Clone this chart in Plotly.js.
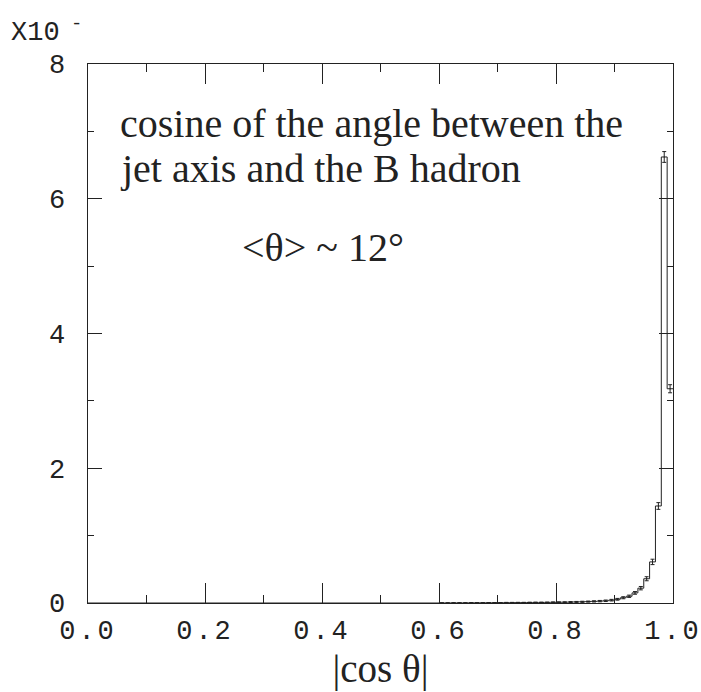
<!DOCTYPE html>
<html>
<head>
<meta charset="utf-8">
<script src="https://cdn.plot.ly/plotly-3.0.1.min.js"></script>
<style>
html,body{margin:0;padding:0;background:#fff;}
#chart{width:701px;height:692px;}
#chart .xtick text, #chart .ytick text{letter-spacing:3px;}
</style>
</head>
<body>
<div id="chart"></div>
<script>
// Histogram of |cos theta| (bin lower edges, first wide bin is empty)
var binEdges = [0.00, 0.60, 0.61, 0.62, 0.63, 0.64, 0.65, 0.66, 0.67, 0.68, 0.69,
  0.70, 0.71, 0.72, 0.73, 0.74, 0.75, 0.76, 0.77, 0.78, 0.79,
  0.80, 0.81, 0.82, 0.83, 0.84, 0.85, 0.86, 0.87, 0.88, 0.89,
  0.90, 0.91, 0.92, 0.93, 0.94, 0.95, 0.96, 0.97, 0.98, 0.99, 1.00];
var counts = [0, 0.001, 0.001, 0.002, 0.002, 0.002, 0.003, 0.003, 0.003, 0.004, 0.004,
  0.004, 0.005, 0.005, 0.006, 0.006, 0.007, 0.008, 0.008, 0.009, 0.010,
  0.011, 0.012, 0.014, 0.016, 0.018, 0.021, 0.024, 0.028, 0.033, 0.042,
  0.055, 0.078, 0.10, 0.15, 0.22, 0.36, 0.61, 1.44, 6.62, 3.18];
var errs = [0, 0.002, 0.002, 0.002, 0.002, 0.002, 0.003, 0.003, 0.003, 0.003, 0.003,
  0.003, 0.004, 0.004, 0.004, 0.004, 0.005, 0.005, 0.005, 0.005, 0.006,
  0.006, 0.006, 0.007, 0.007, 0.008, 0.008, 0.009, 0.010, 0.011, 0.012,
  0.013, 0.015, 0.017, 0.020, 0.025, 0.03, 0.04, 0.05, 0.08, 0.06];
var xTickVals = [0, 0.2, 0.4, 0.6, 0.8, 1.0];
var xTickText = ['0.0', '0.2', '0.4', '0.6', '0.8', '1.0'];
var yTickVals = [0, 2, 4, 6, 8];
var yTickText = ['0', '2', '4', '6', '8'];

var stepY = counts.concat([counts[counts.length - 1]]);
var centers = [], cErr = [], cVal = [];
for (var i = 1; i < counts.length; i++) {
  centers.push((binEdges[i] + binEdges[i + 1]) / 2);
  cVal.push(counts[i]);
  cErr.push(errs[i]);
}

var traces = [
  {x: binEdges, y: stepY, type: 'scatter', mode: 'lines',
   line: {shape: 'hv', color: '#222', width: 1}, hoverinfo: 'skip'},
  {x: centers, y: cVal, type: 'scatter', mode: 'markers',
   marker: {size: 1, color: '#222'},
   error_y: {type: 'data', array: cErr, visible: true, color: '#222', thickness: 1, width: 2},
   hoverinfo: 'skip'}
];

var monoFont = {family: 'Liberation Mono, Courier New, monospace', size: 27, color: '#222'};
var serifFont = {family: 'Liberation Serif, Times New Roman, serif', size: 40, color: '#222'};
var layout = {
  width: 701, height: 692,
  margin: {l: 88, r: 28, t: 64, b: 89},
  paper_bgcolor: '#fff', plot_bgcolor: '#fff',
  showlegend: false,
  xaxis: {
    range: [0, 1], tickvals: xTickVals, ticktext: xTickText,
    ticks: 'inside', ticklen: 20, tickwidth: 1, tickcolor: '#222',
    minor: {dtick: 0.1, ticks: 'inside', ticklen: 8, tickwidth: 1, tickcolor: '#222', showgrid: false},
    showline: true, linecolor: '#222', linewidth: 1.3, mirror: 'ticks',
    showgrid: false, zeroline: false, tickfont: monoFont, ticklabelstandoff: 2,
    title: {text: '|cos θ|', font: {family: 'Liberation Serif, Times New Roman, serif', size: 39, color: '#222'}, standoff: 4}
  },
  yaxis: {
    range: [0, 8], tickvals: yTickVals, ticktext: yTickText,
    ticks: 'inside', ticklen: 14, tickwidth: 1, tickcolor: '#222',
    minor: {dtick: 1, ticks: 'inside', ticklen: 6, tickwidth: 1, tickcolor: '#222', showgrid: false},
    showline: true, linecolor: '#222', linewidth: 1.3, mirror: 'ticks',
    showgrid: false, zeroline: false, tickfont: monoFont, ticklabelstandoff: 13
  },
  annotations: [
    {xref: 'paper', yref: 'paper', x: -0.135, y: 1.063, xanchor: 'left', yanchor: 'middle',
     text: 'X10<sup> -</sup>', showarrow: false, font: monoFont},
    {xref: 'paper', yref: 'paper', x: 0.0513, y: 0.8905, xanchor: 'left', yanchor: 'middle', align: 'left',
     text: 'cosine of the angle between the', showarrow: false, font: serifFont},
    {xref: 'paper', yref: 'paper', x: 0.0513, y: 0.8052, xanchor: 'left', yanchor: 'middle', align: 'left',
     text: 'jet axis and the B hadron', showarrow: false, font: serifFont},
    {xref: 'paper', yref: 'paper', x: 0.259, y: 0.659, xanchor: 'left', yanchor: 'middle',
     text: '<θ> ~ 12°', showarrow: false, font: serifFont}
  ]
};

Plotly.newPlot('chart', traces, layout, {staticPlot: true, displayModeBar: false});
</script>
</body>
</html>
